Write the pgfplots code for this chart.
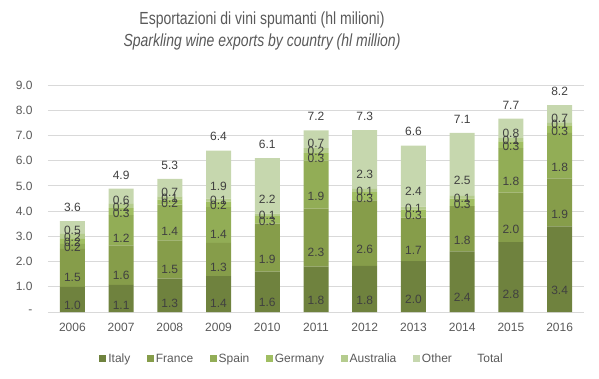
\documentclass[border=0pt]{standalone}
\usepackage{pgfplots}
\pgfplotsset{compat=1.18}
\usepackage{pgfplotstable}
\usepackage{fontspec}
\setmainfont{Liberation Sans}
\newfontfamily\titlefont[FakeStretch=0.8]{Liberation Sans}
\definecolor{cItaly}{HTML}{6F823E}
\definecolor{cFrance}{HTML}{869D4A}
\definecolor{cSpain}{HTML}{92AD56}
\definecolor{cGermany}{HTML}{A0BE62}
\definecolor{cAustralia}{HTML}{B5CC8E}
\definecolor{cOther}{HTML}{C6D7AE}
\definecolor{gridgray}{HTML}{D9D9D9}
\definecolor{tickgray}{HTML}{595959}
\definecolor{labelgray}{HTML}{404040}
\pgfplotsset{
  sq legend/.style={legend image code/.code={\fill[##1] (0pt,-3.5pt) rectangle (7pt,3.5pt);}},
  seg/.style={fill=#1, draw=none, sq legend,
    nodes near coords,
    visualization depends on=rawy \as \rawy,
    every node near coord/.append style={font=\fontsize{12}{14}\selectfont, text=labelgray, anchor=center, shift={(axis direction cs:0,-\rawy/4)}},
  },
  geom/.style={at={(0,0)}, anchor=south west,
    scale only axis, width=536pt, height=227pt,
    xmin=-0.5, xmax=10.5, ymin=0, ymax=9},
}
\pgfplotstableread{
x Italy France Spain SpainL Germany Australia Other Total Sum
0 1.0 1.5 0.2 0.2 0.2 0.2 0.5 3.6 3.6
1 1.08 1.56 1.2 1.2 0.28 0.17 0.6 4.9 4.89
2 1.32 1.52 1.42 1.4 0.2 0.12 0.7 5.3 5.28
3 1.42 1.32 1.42 1.4 0.22 0.12 1.9 6.4 6.4
4 1.6 1.9 0 {} 0.3 0.1 2.2 6.1 6.1
5 1.8 2.3 1.9 1.9 0.3 0.2 0.7 7.2 7.2
6 1.83 2.6 0 {} 0.32 0.13 2.33 7.3 7.21
7 2.02 1.72 0 {} 0.32 0.12 2.42 6.6 6.6
8 2.4 1.8 0 {} 0.3 0.1 2.5 7.1 7.1
9 2.77 1.96 1.77 1.8 0.27 0.12 0.78 7.7 7.67
10 3.4 1.9 1.8 1.8 0.3 0.1 0.7 8.2 8.2
}\datatable
\begin{document}
\begin{tikzpicture}
\useasboundingbox (-48pt,-66pt) rectangle (551pt,312pt);
\begin{axis}[
  geom,
  ybar stacked, bar width=25pt,
  xtick={0,...,10},
  xticklabels={2006,2007,2008,2009,2010,2011,2012,2013,2014,2015,2016},
  ytick={0,1,...,9},
  yticklabels={-\hspace{8pt},1.0,2.0,3.0,4.0,5.0,6.0,7.0,8.0,9.0},
  ymajorgrids, grid style={color=gridgray, line width=0.8pt},
  axis lines*=left,
  y axis line style={draw=none},
  x axis line style={gridgray, line width=0.8pt},
  major tick length=0pt,
  tick style={draw=none},
  /pgf/number format/assume math mode=true,
  /pgf/number format/fixed,
  /pgf/number format/zerofill,
  /pgf/number format/precision=1,
  tick label style={font=\fontsize{12}{14}\selectfont, text=tickgray},
  yticklabel style={xshift=-12pt},
  xticklabel style={yshift=-8pt},
  legend style={at={(0.474,-0.207)}, anchor=center, draw=none, fill=none,
    font=\fontsize{12}{14}\selectfont, text=tickgray,
    /tikz/every even column/.append style={column sep=14.5pt}},
  legend columns=-1,
  clip=false,
]
\addplot[seg=cItaly, point meta=explicit] table[x=x, y=Italy, meta=Italy] {\datatable};
\addplot[seg=cFrance, point meta=explicit] table[x=x, y=France, meta=France] {\datatable};
\addplot[seg=cSpain, point meta=explicit symbolic] table[x=x, y=Spain, meta=SpainL] {\datatable};
\addplot[seg=cGermany, point meta=explicit] table[x=x, y=Germany, meta=Germany] {\datatable};
\addplot[seg=cAustralia, point meta=explicit] table[x=x, y=Australia, meta=Australia] {\datatable};
\addplot[seg=cOther, point meta=explicit] table[x=x, y=Other, meta=Other] {\datatable};
\addlegendimage{draw=none, fill=none, legend image code/.code={\path[draw=none,fill=none] (0pt,-3.5pt) rectangle (7pt,3.5pt);}}
\legend{Italy,France,Spain,Germany,Australia,Other,Total}
\end{axis}
\begin{axis}[
  geom, hide axis, clip=false,
  /pgf/number format/assume math mode=true,
  /pgf/number format/fixed,
  /pgf/number format/zerofill,
  /pgf/number format/precision=1,
]
\addplot[draw=none, mark=none, point meta=explicit, nodes near coords,
  every node near coord/.append style={font=\fontsize{12}{14}\selectfont, text=labelgray, anchor=south, yshift=6pt}]
  table[x=x, y=Sum, meta=Total] {\datatable};
\end{axis}
\node[align=center, text=tickgray, font=\fontsize{17.5}{21.5}\selectfont\titlefont] at (214pt,281pt)
  {Esportazioni di vini spumanti (hl milioni)\\ \itshape Sparkling wine exports by country (hl million)};
\end{tikzpicture}
\end{document}
